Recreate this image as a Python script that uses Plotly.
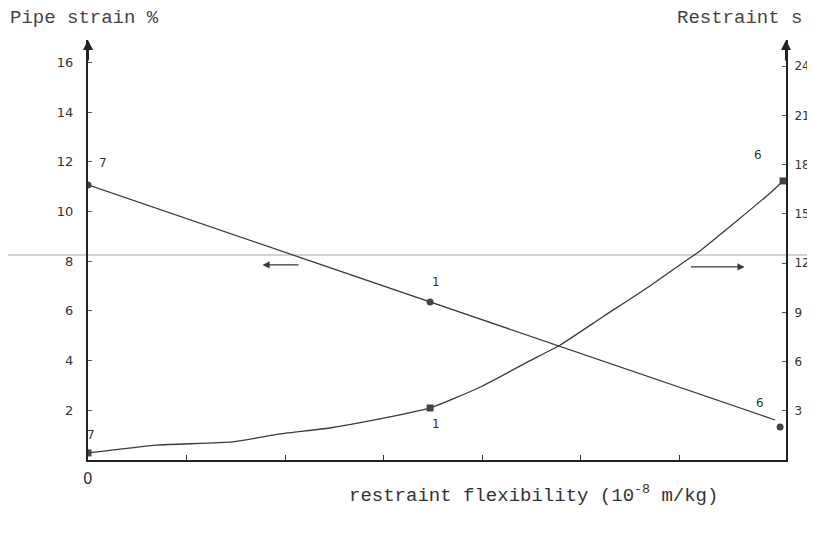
import plotly.graph_objects as go

# ---- data ----
strain_x = [0.0, 3.47, 6.97]
strain_y = [11.07, 6.36, 1.61]
strain_pts_x = [0.0, 3.47, 7.02]
strain_pts_y = [11.07, 6.36, 1.33]
strain_pt_labels = ["7", "1", "6"]

restr_x = [0.0, 0.70, 1.47, 1.95, 2.45, 2.96, 3.47, 3.98, 4.48, 4.79, 5.22, 5.70, 6.03, 6.18, 6.58, 6.92, 7.05]
restr_y = [0.43, 0.91, 1.10, 1.59, 1.95, 2.50, 3.17, 4.45, 6.04, 7.01, 8.72, 10.61, 12.01, 12.62, 14.57, 16.28, 17.01]
restr_pts_x = [0.0, 3.47, 7.05]
restr_pts_y = [0.43, 3.17, 17.01]
restr_pt_labels = ["7", "1", "6"]

left_ticks = [2, 4, 6, 8, 10, 12, 14, 16]
right_ticks = [3, 6, 9, 12, 15, 18, 21, 24]
x_ticks = [1, 2, 3, 4, 5, 6]

INK = "#3a3a3a"
MONO = "Liberation Mono, Courier New, monospace"
HAND = "DejaVu Sans, sans-serif"

OFF = 8  # page body margin
W, H = 815 - OFF, 541 - OFF
L, T = 88 - OFF, 40 - OFF
PR, PB = 786 - OFF, 460 - OFF
R, B = W - PR, H - PB
PW, PH = PR - L, PB - T

fig = go.Figure()
fig.add_trace(go.Scatter(x=strain_x, y=strain_y, mode="lines",
                         line=dict(color=INK, width=1.3), yaxis="y", showlegend=False))
fig.add_trace(go.Scatter(x=strain_pts_x, y=strain_pts_y, mode="markers",
                         marker=dict(color="#444", size=7), yaxis="y", showlegend=False))
fig.add_trace(go.Scatter(x=restr_x, y=restr_y, mode="lines",
                         line=dict(color=INK, width=1.3, shape="spline", smoothing=0.5),
                         yaxis="y2", showlegend=False))
fig.add_trace(go.Scatter(x=restr_pts_x, y=restr_pts_y, mode="markers",
                         marker=dict(color="#444", size=7, symbol="square"), yaxis="y2",
                         showlegend=False))

annotations = []
# point labels
offs_strain = [(15, 22), (6, 20), (-20, 24)]
for x, y, t, (dx, dy) in zip(strain_pts_x, strain_pts_y, strain_pt_labels, offs_strain):
    annotations.append(dict(x=x, y=y, xref="x", yref="y", text=t, showarrow=False,
                            xshift=dx, yshift=dy, font=dict(family=HAND, size=12, color="#333")))
offs_restr = [(3, 18), (6, -16), (-25, 26)]
for x, y, t, (dx, dy) in zip(restr_pts_x, restr_pts_y, restr_pt_labels, offs_restr):
    annotations.append(dict(x=x, y=y, xref="x", yref="y2", text=t, showarrow=False,
                            xshift=dx, yshift=dy, font=dict(family=HAND, size=12, color="#333")))

# origin label
annotations.append(dict(x=0, y=0, xref="x", yref="y", text="0", showarrow=False,
                        yshift=-19, font=dict(family=HAND, size=15, color="#333")))
# direction arrows
annotations.append(dict(x=1.77, y=7.85, xref="x", yref="y", ax=2.15, ay=7.85, axref="x", ayref="y",
                        text="", showarrow=True, arrowhead=2, arrowsize=1.1, arrowwidth=1.3,
                        arrowcolor=INK))
annotations.append(dict(x=6.66, y=7.77, xref="x", yref="y", ax=6.10, ay=7.77, axref="x", ayref="y",
                        text="", showarrow=True, arrowhead=2, arrowsize=1.1, arrowwidth=1.3,
                        arrowcolor=INK))
# axis arrows on top
for xp in [0, 1]:
    annotations.append(dict(x=xp, y=1.0, xref="paper", yref="paper", ax=0, ay=22, text="",
                            showarrow=True, arrowhead=2, arrowsize=1.0, arrowwidth=2,
                            arrowcolor="#222"))
# titles
annotations.append(dict(x=(0 - L) / PW, y=1 + 22 / PH, xref="paper", yref="paper",
                        text="Pipe strain %", showarrow=False, xanchor="left", yanchor="middle",
                        font=dict(family=MONO, size=19, color="#444")))
annotations.append(dict(x=(675 - OFF - L) / PW, y=1 + 22 / PH, xref="paper", yref="paper",
                        text="Restraint s", showarrow=False, xanchor="left", yanchor="middle",
                        font=dict(family=MONO, size=19, color="#444")))
annotations.append(dict(x=(533 - OFF - L) / PW, y=-35 / PH, xref="paper", yref="paper",
                        text="restraint flexibility (10<sup>-8</sup> m/kg)", showarrow=False,
                        xanchor="center", yanchor="middle",
                        font=dict(family=MONO, size=19, color="#333")))

gy = (PB - (255 - OFF)) / PH
fig.update_layout(
    width=W, height=H,
    margin=dict(l=L, r=R, t=T, b=B, autoexpand=False),
    paper_bgcolor="white", plot_bgcolor="white",
    showlegend=False,
    xaxis=dict(range=[0, 7.08], showgrid=False, zeroline=False, showline=True,
               linecolor="#222", linewidth=2, tickvals=x_ticks, ticks="inside",
               ticklen=5, tickcolor="#333", showticklabels=False, automargin=False),
    yaxis=dict(range=[0, 16.9], showgrid=False, zeroline=False, showline=True,
               linecolor="#222", linewidth=2, tickvals=left_ticks, ticks="inside",
               ticklen=4, tickcolor="#555", automargin=False,
               tickfont=dict(family=HAND, size=13, color="#333"), ticklabelstandoff=10),
    yaxis2=dict(range=[0, 25.6], overlaying="y", side="right", showgrid=False,
                zeroline=False, showline=True, linecolor="#222", linewidth=2,
                tickvals=right_ticks, ticks="inside", ticklen=4, tickcolor="#555",
                automargin=False,
                tickfont=dict(family=HAND, size=12, color="#333"), ticklabelstandoff=4),
    annotations=annotations,
    shapes=[dict(type="line", xref="paper", yref="paper", x0=-L / PW, x1=(W - L) / PW,
                 y0=gy, y1=gy, line=dict(color="#c4c4c4", width=1.5),
                 layer="below")],
)

fig.write_html("out.html")
